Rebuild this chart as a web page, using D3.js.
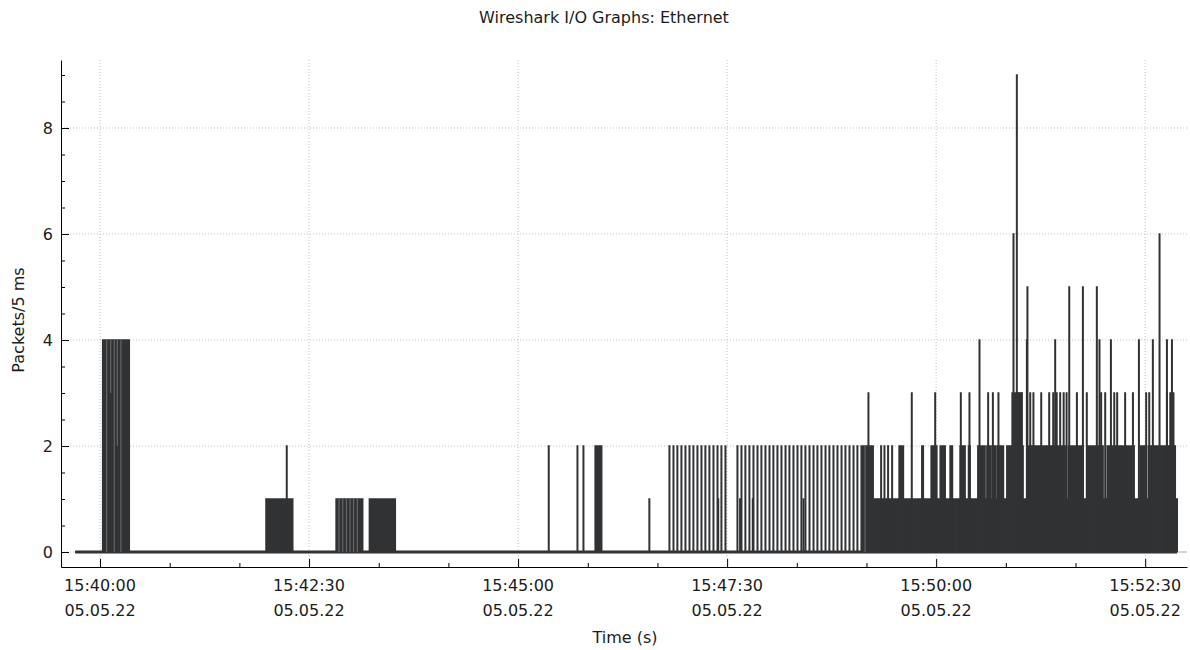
<!DOCTYPE html>
<html lang="en">
<head>
<meta charset="UTF-8">
<title>Wireshark I/O Graphs: Ethernet</title>
<script src="https://cdn.jsdelivr.net/npm/d3@7"></script>
<style>
    body{margin:0;background:#fff;}
    svg text{font-family:"DejaVu Sans",sans-serif;fill:#1c1c1c;}
</style>
</head>
<body>
<div class="chart"></div>
<script>
    //data, times are seconds after 15:40:00 on 05.05.22
    const startTime=new Date(2022,4,5,15,40,0)
    const dataFrom=-17.9, dataTo=773.0

    // dense runs of 5 ms samples that merge into a solid band
    const burstStart=[1.9,119.1,169.4,193.3,355.3,546.2,547.6,654.5,
        573.4,589.7,596.4,602.9,610.0,617.2,623.2,629.9,636.4,640.0,643.6,650.7,665.3,694.8,708.4,722.7,746.4,752.2]
    const burstEnd=[21.0,138.3,188.5,211.9,360.0,554.8,773.0,661.7,
        576.5,590.8,600.5,606.5,611.7,620.8,624.4,635.1,638.8,642.4,648.3,662.4,692.6,705.5,719.8,742.1,750.0,771.6]
    const burstLevel=[4,1,1,1,2,2,1,3,
        2,2,2,2,2,2,2,2,2,2,2,2,2,2,2,2,2,2]

    // single spikes
    const spike1=[394.2,443.6,459.3,468.4,504.8]
    const spike2=[134.0,322.0,342.6,346.9,560.5,562.9,565.5,568.4,
        408.6,411.5,414.3,417.2,420.1,423.0,425.8,428.7,431.6,434.4,437.3,440.2,443.1,445.9,448.8,
        457.4,460.3,463.1,466.0,468.9,471.8,474.6,477.5,480.4,483.2,486.1,489.0,491.9,494.7,497.6,500.5,
        503.3,506.2,509.1,512.0,514.8,517.7,520.6,523.4,526.3,529.2,532.1,534.9,537.8,540.7,543.5]
    const spike3=[551.4,582.5,599.3,617.7,623.9,637.3,640.7,644.7,658.8,661.0,667.5,669.8,675.4,681.1,
        684.0,686.5,689.0,691.5,693.6,701.0,708.1,718.4,721.3,727.8,729.9,735.6,741.2,750.7,752.9,765.6,768.0,770.3]
    const spike4=[631.1,665.1,685.4,717.2,725.4,745.5,755.5,765.6,769.2]
    const spike5=[665.5,695.5,705.3,715.3]
    const spike6=[655.5,760.3]
    const spike9=[657.9]

    // short dips inside the bands
    const dipTime=[4.8,7.7,10.2,12.4,15.0,171.5,174.2,176.8,179.4,182.0,184.6,549.0]
    const dipFrom=[4,4,4,4,4,1,1,1,1,1,1,2]
    const dipTo=[0,3,0,2,0,0,0,0,0,0,0,0]

    const xMajor=[0,150,300,450,600,750]
    const xMinor=[50,100,200,250,350,400,500,550,650,700]
    const yMajor=[0,2,4,6,8]
    const yMinor=[0.5,1,1.5,2.5,3,3.5,4.5,5,5.5,6.5,7,7.5,8.5,9]

    const spikes=[]
    ;[[spike1,1],[spike2,2],[spike3,3],[spike4,4],[spike5,5],[spike6,6],[spike9,9]].forEach(([arr,v])=>{
        arr.forEach(t=>spikes.push({t:t,v:v}))
    })

    //layout
    const W=1190,H=650
    const pLeft=61,pRight=1187,pTop=60,pBottom=567
    const lineColor='#303234'

    let x=d3.scaleLinear().domain([-28,780]).range([pLeft,pRight])
    let y=d3.scaleLinear().domain([-0.283,9.283]).range([pBottom,pTop])

    let svg=d3.select('.chart').append('svg').attr('width',W).attr('height',H)

    //grid
    svg.append('g').selectAll('line').data(xMajor).join('line')
        .attr('x1',d=>x(d)).attr('x2',d=>x(d)).attr('y1',pTop).attr('y2',pBottom)
        .attr('stroke','#c4c4c4').attr('stroke-dasharray','1,2')
    svg.append('g').selectAll('line').data(yMajor).join('line')
        .attr('x1',pLeft).attr('x2',pRight).attr('y1',d=>y(d)).attr('y2',d=>y(d))
        .attr('stroke','#c4c4c4').attr('stroke-dasharray','1,2')

    //data
    let g=svg.append('g')
    g.append('line').attr('x1',x(dataTo)).attr('x2',pRight).attr('y1',y(0)).attr('y2',y(0))
        .attr('stroke','#c8c8c8').attr('stroke-width',1.5)
    g.append('line').attr('x1',x(dataFrom)).attr('x2',x(dataTo)).attr('y1',y(0)).attr('y2',y(0))
        .attr('stroke',lineColor).attr('stroke-width',3)
    g.append('g').selectAll('rect').data(burstStart).join('rect')
        .attr('x',(d,i)=>x(d)-0.75).attr('width',(d,i)=>x(burstEnd[i])-x(d)+1.5)
        .attr('y',(d,i)=>y(burstLevel[i])-0.75).attr('height',(d,i)=>y(0)-y(burstLevel[i])+0.75)
        .attr('fill',lineColor)
    g.append('g').selectAll('line').data(spikes).join('line')
        .attr('x1',d=>x(d.t)).attr('x2',d=>x(d.t)).attr('y1',y(0)).attr('y2',d=>y(d.v)-0.75)
        .attr('stroke',lineColor).attr('stroke-width',2)
    g.append('g').selectAll('line').data(dipTime).join('line')
        .attr('x1',d=>x(d)).attr('x2',d=>x(d)).attr('y1',(d,i)=>y(dipFrom[i])).attr('y2',(d,i)=>y(dipTo[i]))
        .attr('stroke','#fff').attr('stroke-opacity',0.3).attr('stroke-width',1)

    //axis
    let xAxis=svg.append('g').attr('transform','translate(0,'+pBottom+')')
    xAxis.call(d3.axisBottom(x).tickValues(xMajor).tickSizeInner(-8).tickSizeOuter(0).tickFormat(''))
    xAxis.append('g').call(d3.axisBottom(x).tickValues(xMinor).tickSizeInner(-4).tickSizeOuter(0).tickFormat(''))
        .select('.domain').remove()
    let yAxis=svg.append('g').attr('transform','translate('+pLeft+',0)')
    yAxis.call(d3.axisLeft(y).tickValues(yMajor).tickSizeInner(-8).tickSizeOuter(0).tickPadding(8))
    yAxis.append('g').call(d3.axisLeft(y).tickValues(yMinor).tickSizeInner(-4).tickSizeOuter(0).tickFormat(''))
        .select('.domain').remove()
    svg.selectAll('.domain,.tick line').attr('stroke','#000')
    yAxis.selectAll('.tick text').attr('font-size',16).attr('font-family','"DejaVu Sans",sans-serif')
        .attr('fill','#1c1c1c')

    const fmtTime=d3.timeFormat('%H:%M:%S'), fmtDate=d3.timeFormat('%d.%m.%y')
    let xl=svg.append('g').selectAll('text').data(xMajor).join('text')
        .attr('text-anchor','middle').attr('font-size',16)
    xl.append('tspan').attr('x',d=>x(d)).attr('y',591)
        .text(d=>fmtTime(new Date(startTime.getTime()+d*1000)))
    xl.append('tspan').attr('x',d=>x(d)).attr('y',616)
        .text(d=>fmtDate(new Date(startTime.getTime()+d*1000)))

    //titles
    svg.append('text').attr('x',604).attr('y',23).attr('text-anchor','middle').attr('font-size',16)
        .text('Wireshark I/O Graphs: Ethernet')
    svg.append('text').attr('x',625).attr('y',643).attr('text-anchor','middle').attr('font-size',16)
        .text('Time (s)')
    svg.append('text').attr('transform','translate(24,320) rotate(-90)').attr('text-anchor','middle')
        .attr('font-size',16).text('Packets/5 ms')
</script>
</body>
</html>
